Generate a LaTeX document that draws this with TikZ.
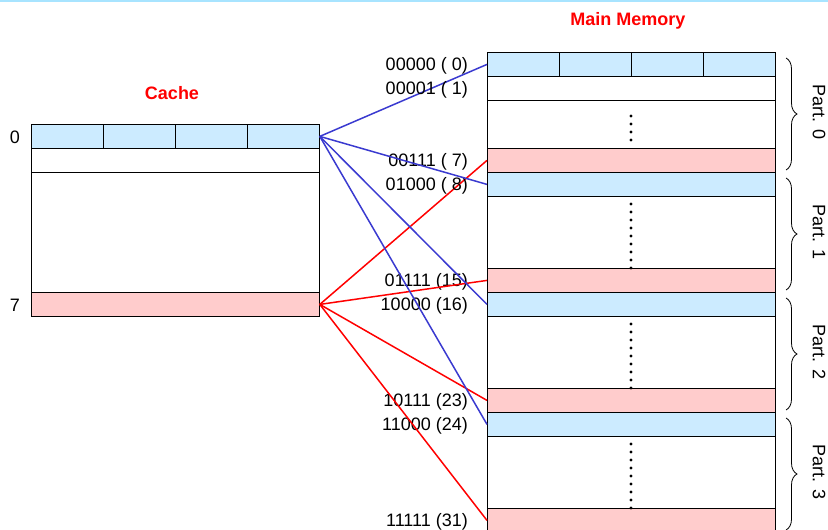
\documentclass[tikz,border=0pt]{standalone}
\usepackage{fontspec}
\setmainfont{Liberation Sans}
\usetikzlibrary{decorations.pathreplacing}
\definecolor{blockblue}{HTML}{CCEBFF}
\definecolor{blockpink}{HTML}{FFCCCC}
\definecolor{mapblue}{HTML}{3A3AD0}
\definecolor{mapred}{HTML}{FF0000}
\definecolor{edgecyan}{HTML}{A8E4FF}

\begin{document}
\begin{tikzpicture}[x=1pt,y=-1pt,
          font=\fontsize{18}{21}\selectfont,
          row/.style={draw, line width=0.8pt, minimum width=288pt, minimum height=24pt, inner sep=0pt, anchor=north west},
          title/.style={text=red, font=\fontsize{18}{21}\selectfont\bfseries},
          addr/.style={anchor=east, inner sep=0pt, yshift=-1.5pt},
          dot/.style={circle, fill=black, inner sep=0pt, minimum size=3.4pt},
          partbrace/.style={decorate, decoration={brace, amplitude=11pt}, line width=0.8pt},
          bluemap/.style={mapblue, line width=1.5pt},
          redmap/.style={mapred, line width=1.5pt}
        ]
          \useasboundingbox (0,0) rectangle (828,530);
          \draw[edgecyan, line width=2pt] (0,1) -- (828,1);

          % cache: 8 lines, only the first and the last are shown
          \node[title] (cachetitle) at (172,93) {Cache};
          \node[row, fill=blockblue] (c0) at (31,124) {};
          \node[row] (c1) at (31,148) {};
          \node[row, minimum height=120pt] (cmid) at (31,172) {};
          \node[row, fill=blockpink] (c7) at (31,292) {};
          \foreach \i in {1,2,3}
            \draw[line width=0.8pt] ([xshift=72*\i pt]c0.north west) -- ([xshift=72*\i pt]c0.south west);
          \node (idx0) at (15,137) {0};
          \node (idx7) at (15,305) {7};

          % main memory: 4 parts of 8 blocks
          \node[title] (memtitle) at (628,21) {Main Memory};
          \foreach \p/\first/\last in {0/{00000 ( 0)}/{00111 ( 7)},1/{01000 ( 8)}/{01111 (15)},2/{10000 (16)}/{10111 (23)},3/{11000 (24)}/{11111 (31)}}{
            \pgfmathtruncatemacro\top{52+120*\p}
            \node[row, fill=blockblue] (mb\p) at (487,\top) {};
            \node[row, minimum height=72pt] (mw\p) at (487,\top+24) {};
            \node[row, fill=blockpink] (mr\p) at (487,\top+96) {};
            \node[addr] (lb\p) at ([xshift=-19pt]mb\p.west) {\first};
            \node[addr] (lr\p) at ([xshift=-19pt]mr\p.west) {\last};
            \draw[partbrace] (786,\top+6) -- (786,\top+118);
            \node[rotate=-90] (part\p) at (819,\top+60) {Part. \p};
            \draw[bluemap] (c0.east) -- (mb\p.west);
            \draw[redmap] (c7.east) -- (mr\p.west);
          }
          \foreach \i in {1,2,3}
            \draw[line width=0.8pt] ([xshift=72*\i pt]mb0.north west) -- ([xshift=72*\i pt]mb0.south west);
          \draw[line width=0.8pt] ([yshift=-24pt]mw0.north west) -- ([yshift=-24pt]mw0.north east);
          \node[addr] (lb0b) at (468,88) {00001 ( 1)};

          % dotted gaps
          \foreach \k in {2,...,5}
            \node[dot] at (631,100+8*\k) {};
          \foreach \p in {1,2,3}
            \foreach \k in {1,...,9}
              \node[dot] at (631,52+120*\p+24+8*\k) {};
        \end{tikzpicture}
\end{document}
